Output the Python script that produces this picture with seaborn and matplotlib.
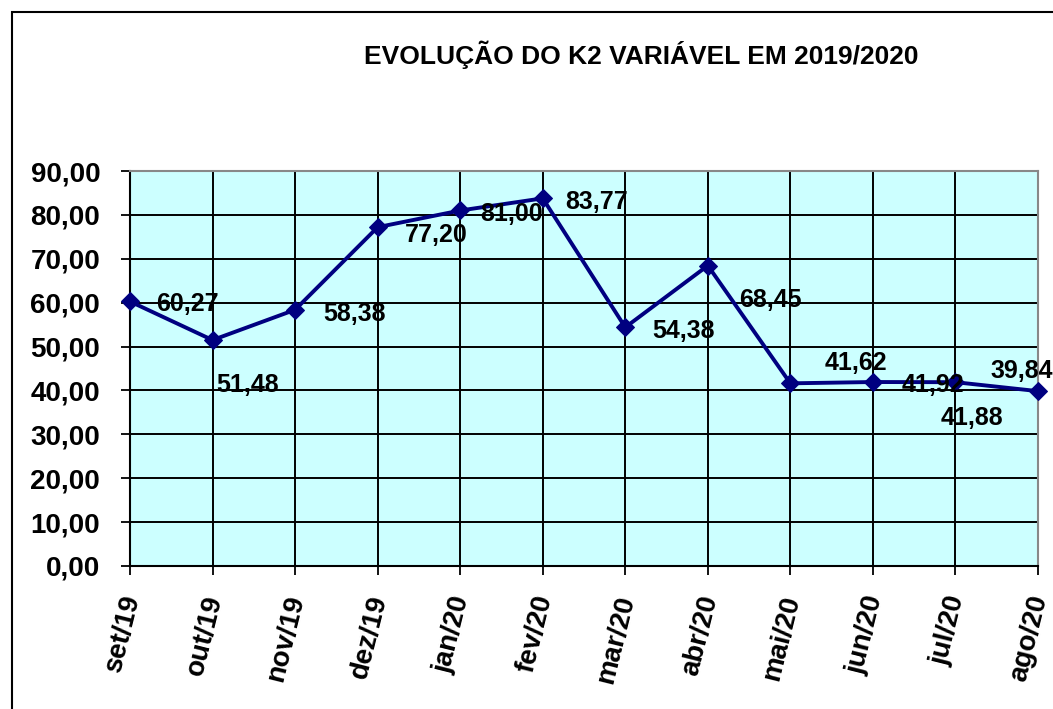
import matplotlib
matplotlib.use('Agg')
import matplotlib.pyplot as plt
import matplotlib.transforms as mtransforms
import seaborn as sns
import pandas as pd
from matplotlib.patches import Rectangle

meses = ['set/19', 'out/19', 'nov/19', 'dez/19', 'jan/20', 'fev/20',
         'mar/20', 'abr/20', 'mai/20', 'jun/20', 'jul/20', 'ago/20']
k2 = [60.27, 51.48, 58.38, 77.20, 81.00, 83.77,
      54.38, 68.45, 41.62, 41.92, 41.88, 39.84]
rotulos = ['60,27', '51,48', '58,38', '77,20', '81,00', '83,77',
           '54,38', '68,45', '41,62', '41,92', '41,88', '39,84']
# label offsets in points (dx, dy)
offsets = [(41, -2), (25, -32), (43, -3), (42, -5.5), (37, -2.5), (39, -2.7),
           (42, -2.7), (45, -25), (47, 14.5), (43, -2), (12, -26), (-11.5, 14.5)]

sns.set_style('white')
plt.rcParams['font.family'] = ['Liberation Sans', 'DejaVu Sans']
plt.rcParams['font.weight'] = 'bold'
plt.rcParams['text.color'] = 'black'
plt.rcParams['xtick.color'] = 'black'
plt.rcParams['ytick.color'] = 'black'

df = pd.DataFrame({'mes': meses, 'k2': k2})

fig = plt.figure(figsize=(10.53, 7.09), dpi=100)
ax = fig.add_axes([130 / 1053, 1 - 566 / 709, 908 / 1053, 395 / 709])
ax.set_facecolor('#CCFFFF')

sns.lineplot(data=df, x='mes', y='k2', ax=ax, color='#000080', linewidth=2.8,
             marker='D', markersize=9, markeredgecolor='#000080', sort=False,
             clip_on=False, zorder=5)

for i, (v, t, (dx, dy)) in enumerate(zip(k2, rotulos, offsets)):
    ax.annotate(t, (i, v), xytext=(dx, dy), textcoords='offset points',
                ha='center', va='center', fontsize=18, fontweight='bold',
                color='black', zorder=6, annotation_clip=False)

ax.set_xlim(0, len(meses) - 1)
ax.set_ylim(0, 90)
ax.set_yticks(range(0, 91, 10))
ax.set_yticklabels([f'{v},00' for v in range(0, 91, 10)], fontsize=20, fontweight='bold')
ax.set_xticks(range(len(meses)))
ax.set_xticklabels(meses, rotation=76, ha='right', va='center',
                   rotation_mode='anchor', fontsize=20, fontweight='bold')
ax.set_xlabel('')
ax.set_ylabel('')
ax.grid(True, color='black', linewidth=1.4)
ax.set_axisbelow(True)
ax.tick_params(axis='both', direction='out', length=6.5, width=1.3, color='black',
               left=True, bottom=True)
ax.tick_params(axis='y', pad=15)
ax.tick_params(axis='x', pad=15)
shift = mtransforms.ScaledTranslation(2 / 100, 0, fig.dpi_scale_trans)
for lab in ax.get_xticklabels():
    lab.set_transform(lab.get_transform() + shift)
for s in ['left', 'bottom']:
    ax.spines[s].set_color('black')
    ax.spines[s].set_linewidth(1.5)
for s in ['top', 'right']:
    ax.spines[s].set_color('#888888')
    ax.spines[s].set_linewidth(1.5)

fig.text(641 / 1053, 1 - 55 / 709, 'EVOLUÇÃO DO K2 VARIÁVEL EM 2019/2020',
         ha='center', va='center', fontsize=19, fontweight='bold')

fig.patches.append(Rectangle((12 / 1053, -0.05), 1.1, 1 - 12 / 709 + 0.05,
                             transform=fig.transFigure, fill=False,
                             edgecolor='black', linewidth=1.5))

fig.savefig('out.png', dpi=100)
